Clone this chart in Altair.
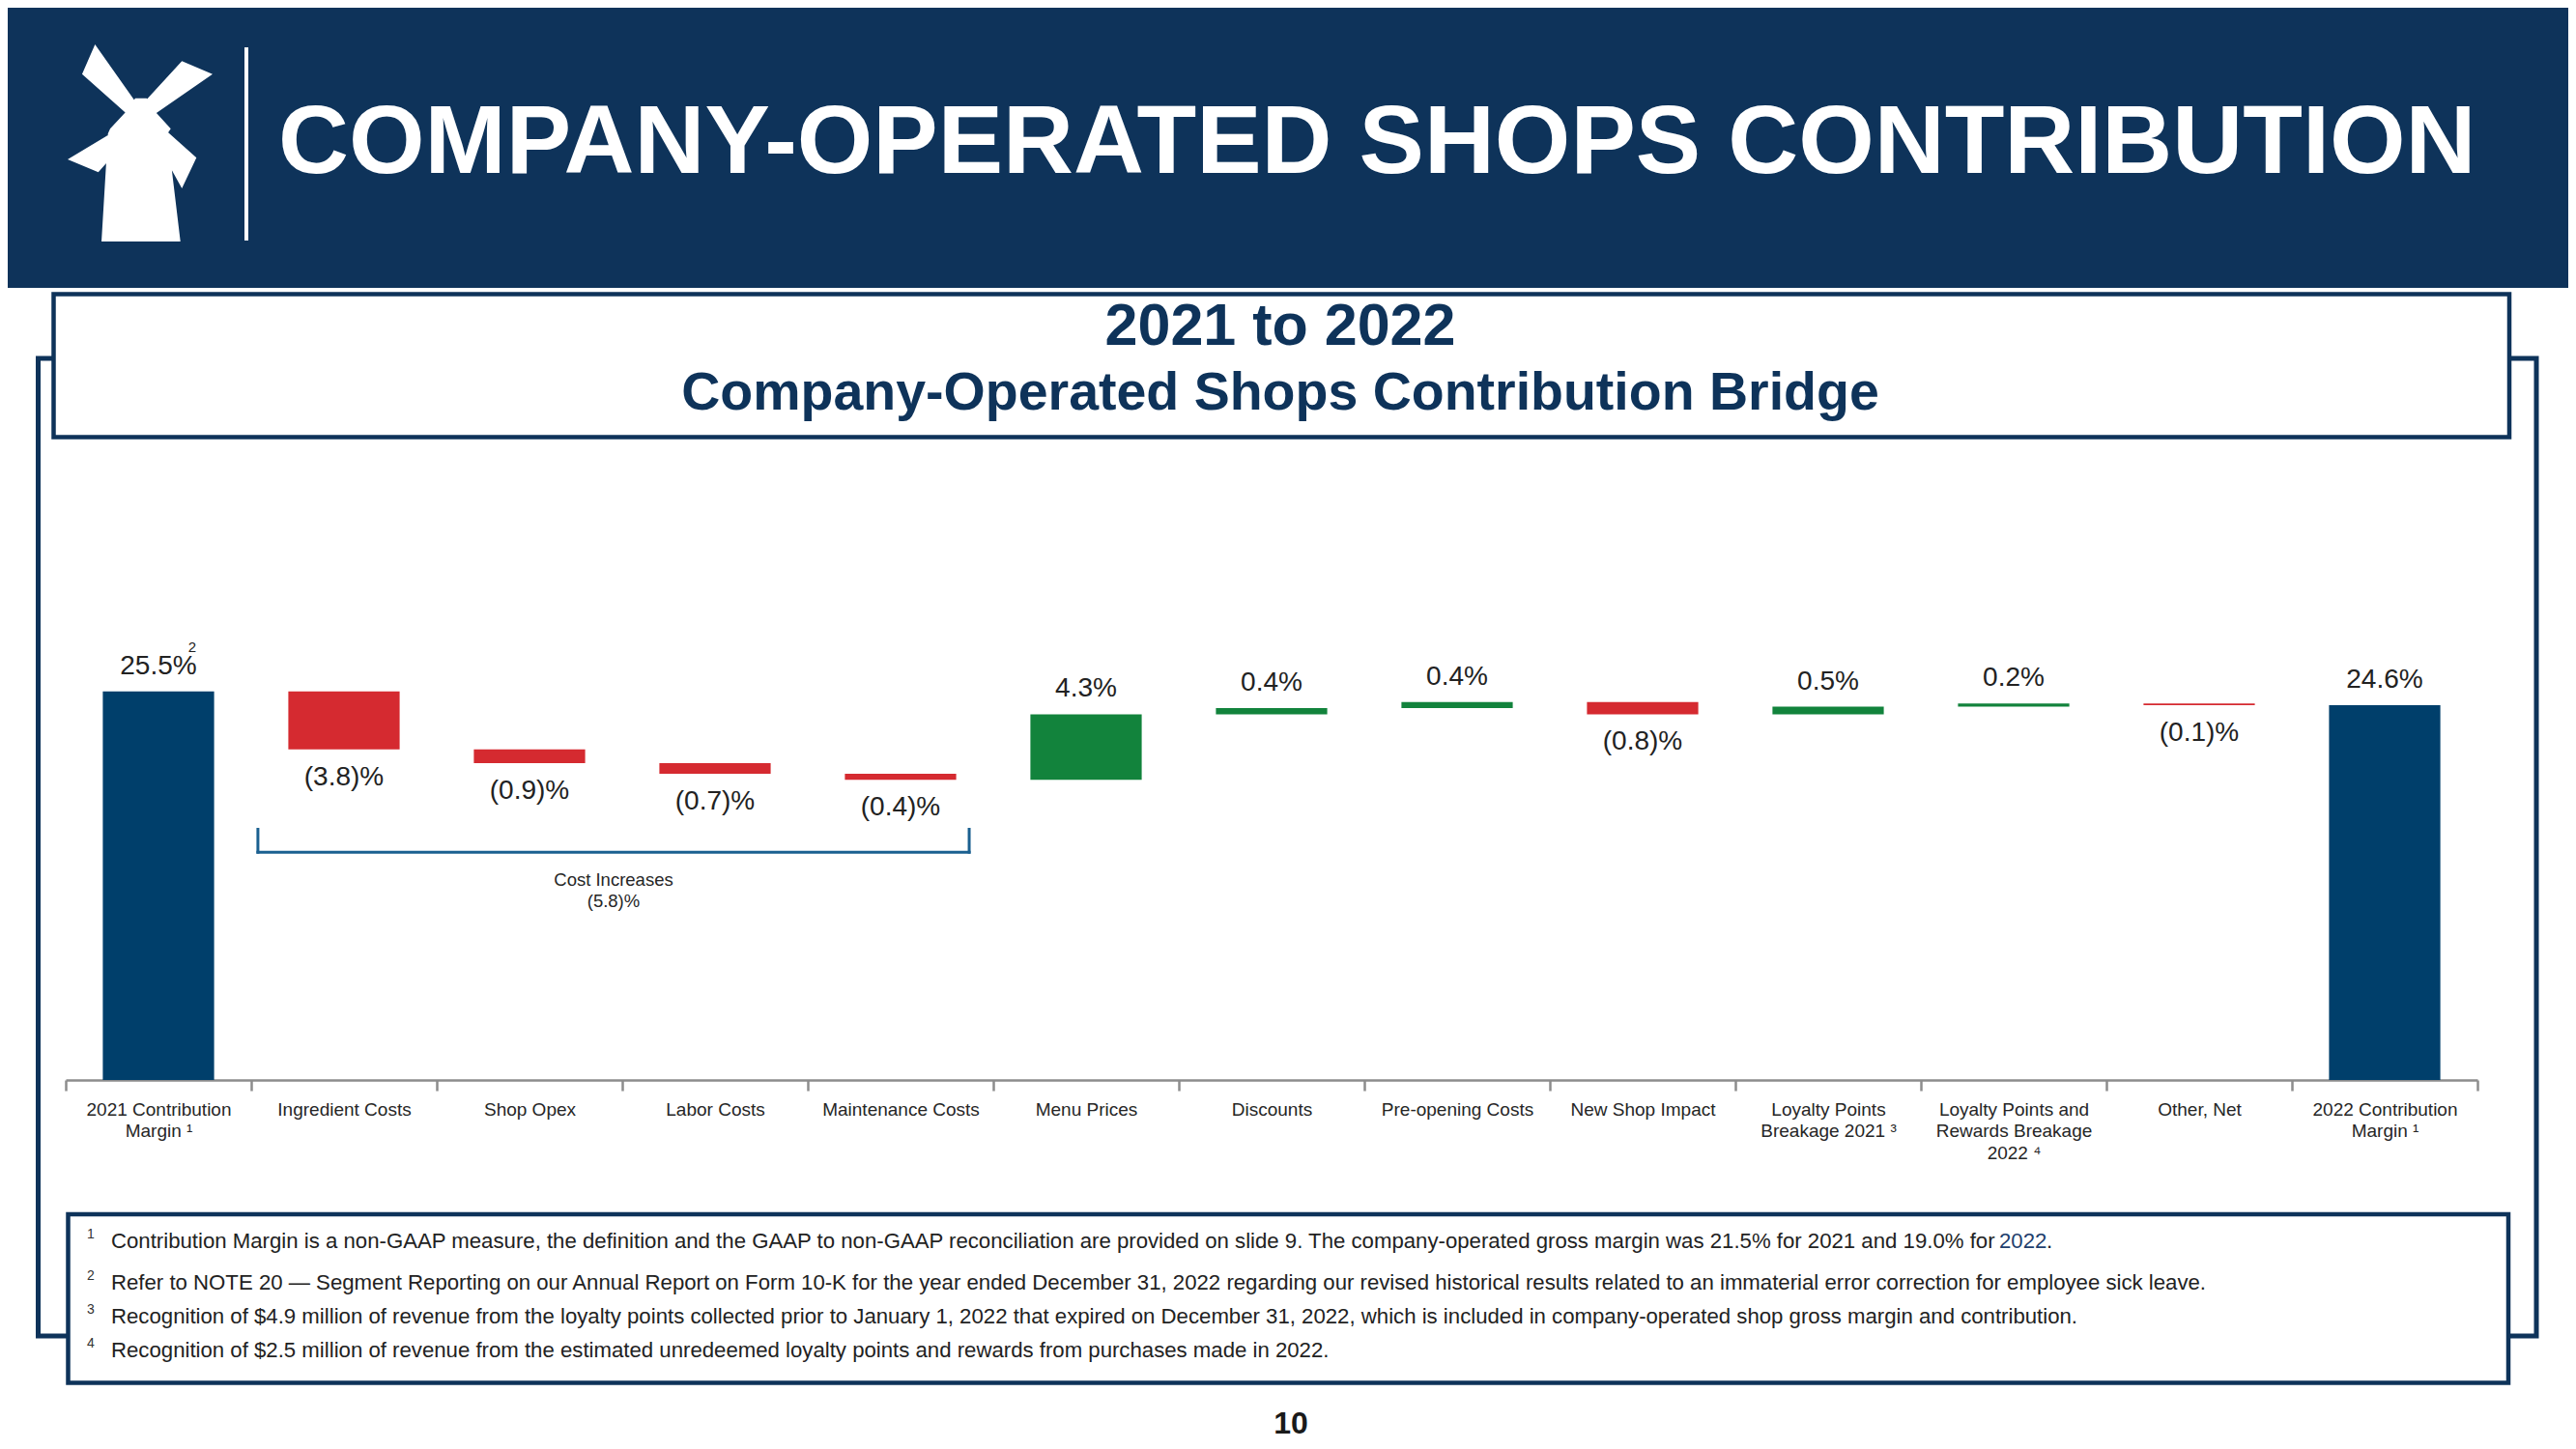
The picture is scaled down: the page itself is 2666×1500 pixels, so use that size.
import altair as alt
import pandas as pd

FONT = "Liberation Sans"
HEADER_NAVY = "#0E335A"
BAR_NAVY = "#003F6B"
RED = "#D52A30"
GREEN = "#12833C"
TEXT = "#222222"

# ---------------- data ----------------
categories = [
    "2021 Contribution|Margin ¹", "Ingredient Costs", "Shop Opex", "Labor Costs",
    "Maintenance Costs", "Menu Prices", "Discounts", "Pre-opening Costs",
    "New Shop Impact", "Loyalty Points|Breakage 2021 ³",
    "Loyalty Points and|Rewards Breakage|2022 ⁴", "Other, Net",
    "2022 Contribution|Margin ¹",
]
values = [25.5, -3.8, -0.9, -0.7, -0.4, 4.3, 0.4, 0.4, -0.8, 0.5, 0.2, -0.1, 24.6]
kinds = ["total", "neg", "neg", "neg", "neg", "pos", "pos", "pos", "neg", "pos", "pos", "neg", "total"]
value_labels = ["25.5%", "(3.8)%", "(0.9)%", "(0.7)%", "(0.4)%", "4.3%", "0.4%", "0.4%",
                "(0.8)%", "0.5%", "0.2%", "(0.1)%", "24.6%"]
label_notes = ["2", "", "", "", "", "", "", "", "", "", "", "", ""]

bracket_label = "Cost Increases|(5.8)%"
# bracket span in category units (0 = left edge of first category) and in value units
bracket_x = [1.036, 4.87]
bracket_y = [16.45, 14.95]

footnote_numbers = ["1", "2", "3", "4"]
footnote_texts = [
    "Contribution Margin is a non-GAAP measure, the definition and the GAAP to non-GAAP reconciliation are provided on slide 9. The company-operated gross margin was 21.5% for 2021 and 19.0% for ",
    "Refer to NOTE 20 \u2014 Segment Reporting on our Annual Report on Form 10-K for the year ended December 31, 2022 regarding our revised historical results related to an immaterial error correction for employee sick leave.",
    "Recognition of $4.9 million of revenue from the loyalty points collected prior to January 1, 2022 that expired on December 31, 2022, which is included in company-operated shop gross margin and contribution.",
    "Recognition of $2.5 million of revenue from the estimated unredeemed loyalty points and rewards from purchases made in 2022.",
]
footnote_link = "2022"

title_text = "COMPANY-OPERATED SHOPS CONTRIBUTION"
subtitle_1 = "2021 to 2022"
subtitle_2 = "Company-Operated Shops Contribution Bridge"
page_number = "10"

# ---------------- waterfall table ----------------
rows = []
running = 0.0
for c, v, k, lab, note in zip(categories, values, kinds, value_labels, label_notes):
    if k == "total":
        start, end = 0.0, v
    else:
        start, end = running, running + v
    running = end
    rows.append(dict(cat=c, lo=min(start, end), hi=max(start, end), kind=k, label=lab, note=note))
df = pd.DataFrame(rows)

# ---------------- layout (plot area = bar region) ----------------
W, H = 2496, 631
OX, OY = 68, 487  # reference position of plot origin


def px(x):
    return x - OX


def py(y):
    return y - OY


one = pd.DataFrame({"d": [0]})


def rect(x0, x1, y0, y1, **kw):
    return alt.Chart(one).mark_rect(**kw).encode(
        x=alt.value(px(x0)), x2=alt.value(px(x1)), y=alt.value(py(y0)), y2=alt.value(py(y1)))


def text(x, y, s, **kw):
    return alt.Chart(one).mark_text(font=FONT, **kw).encode(
        x=alt.value(px(x)), y=alt.value(py(y)), text=alt.value(s))


# windmill logo polygons (reference pixel coords)
logo_polys = [
    [(140, 101.7), (151.7, 101.7), (161.7, 116.7), (176.7, 133.3), (173.3, 138.3), (186.7, 250),
     (105, 250), (111.7, 138.3), (114, 133.3), (129.3, 116.7)],
    [(98.3, 46), (140, 105), (130, 116.7), (85, 76.7)],
    [(188.3, 63.3), (220, 76.7), (160, 118.3), (148.3, 106.7)],
    [(120, 135), (128.3, 148.3), (101.7, 178.3), (70, 165)],
    [(171.7, 135), (203.3, 163.3), (188.3, 195), (163.3, 150)],
]
LC, LS = (145, 149), 103
parts = []
for poly in logo_polys:
    pts = [((x - LC[0]) / LS, (y - LC[1]) / LS) for x, y in poly]
    parts.append("M" + " L".join(f"{u:.3f},{v:.3f}" for u, v in pts) + " Z")
logo_path = " ".join(parts)

FN_SIZE = 22.2

decor = [
    rect(8, 2666, 8, 298, color=HEADER_NAVY),
    alt.Chart(one).mark_point(shape=logo_path, filled=True, color="white", opacity=1, strokeWidth=0).encode(
        x=alt.value(px(145)), y=alt.value(py(149)), size=alt.value(LS * LS * 4)),
    alt.Chart(one).mark_rule(color="white", strokeWidth=4).encode(
        x=alt.value(px(255)), y=alt.value(py(49)), y2=alt.value(py(249))),
    text(288, 179, title_text, fontSize=101, fontWeight="bold", color="white", align="left", baseline="alphabetic"),
    rect(39.5, 2625, 371, 1383, fill="white", fillOpacity=0, stroke=HEADER_NAVY, strokeWidth=5),
    rect(55.5, 2597, 304.5, 452.5, fill="white", stroke=HEADER_NAVY, strokeWidth=4.5),
    text(1325, 357, subtitle_1, fontSize=61, fontWeight="bold", color=HEADER_NAVY, align="center", baseline="alphabetic"),
    text(1325, 424, subtitle_2, fontSize=55.5, fontWeight="bold", color=HEADER_NAVY, align="center", baseline="alphabetic"),
    rect(70.5, 2596, 1257, 1431.5, fill="white", stroke=HEADER_NAVY, strokeWidth=4.5),
    text(1336, 1484, page_number, fontSize=32, fontWeight="bold", color="#1A1A1A", align="center", baseline="alphabetic"),
]

fn_baselines = [1292, 1335, 1370, 1405]
for num, t, b in zip(footnote_numbers, footnote_texts, fn_baselines):
    decor.append(text(90, b - 10, num, fontSize=14, color="#333333", align="left", baseline="alphabetic"))
    decor.append(text(115, b, t, fontSize=FN_SIZE, color=TEXT, align="left", baseline="alphabetic"))
decor.append(text(2069, fn_baselines[0], footnote_link, fontSize=FN_SIZE, color="#1F3F6E", align="left", baseline="alphabetic"))
decor.append(text(2118, fn_baselines[0], ".", fontSize=FN_SIZE, color=TEXT, align="left", baseline="alphabetic"))

# ---------------- waterfall ----------------
xs = alt.Scale(domain=categories, paddingInner=0, paddingOuter=0)
ys = alt.Scale(domain=[0, 40], nice=False, zero=True)
x_axis = alt.Axis(
    title=None, labelExpr="split(datum.label, '|')", labelAngle=0, labelFont=FONT,
    labelFontSize=19, labelColor="#262626", labelLineHeight=22.5, labelPadding=10,
    labelLimit=400, labelOverlap=False, tickBand="extent", tickSize=11, tickWidth=2.5,
    tickColor="#8C8C8C", domainColor="#8C8C8C", domainWidth=2.5, grid=False,
)
X = alt.X("cat:N", scale=xs, sort=categories, axis=x_axis)

base = alt.Chart(df)
bars = base.mark_bar(width=alt.RelativeBandSize(0.6)).encode(
    x=X,
    y=alt.Y("lo:Q", scale=ys, axis=None),
    y2="hi:Q",
    color=alt.Color("kind:N", scale=alt.Scale(domain=["total", "neg", "pos"], range=[BAR_NAVY, RED, GREEN]), legend=None),
)
above = base.transform_filter("datum.kind != 'neg'").mark_text(
    font=FONT, fontSize=28, color=TEXT, baseline="alphabetic", dy=-18).encode(
    x=X, y=alt.Y("hi:Q", scale=ys, axis=None), text="label:N")
below = base.transform_filter("datum.kind == 'neg'").mark_text(
    font=FONT, fontSize=28, color=TEXT, baseline="alphabetic", dy=37).encode(
    x=X, y=alt.Y("lo:Q", scale=ys, axis=None), text="label:N")
notes = base.transform_filter("datum.note != ''").mark_text(
    font=FONT, fontSize=15, color=TEXT, baseline="alphabetic", dx=35, dy=-41).encode(
    x=X, y=alt.Y("hi:Q", scale=ys, axis=None), text="note:N")
waterfall = alt.layer(bars, above, below, notes)

# ---------------- cost increases bracket ----------------
bdf = pd.DataFrame([
    {"x": bracket_x[0], "x2": bracket_x[0], "y": bracket_y[0], "y2": bracket_y[1]},
    {"x": bracket_x[1], "x2": bracket_x[1], "y": bracket_y[0], "y2": bracket_y[1]},
    {"x": bracket_x[0], "x2": bracket_x[1], "y": bracket_y[1], "y2": bracket_y[1]},
])
bxs = alt.Scale(domain=[0, len(categories)], nice=False, zero=False)
b_rules = alt.Chart(bdf).mark_rule(color="#1B6090", strokeWidth=3, strokeCap="square").encode(
    x=alt.X("x:Q", scale=bxs, axis=None), x2="x2:Q",
    y=alt.Y("y:Q", scale=ys, axis=None), y2="y2:Q")
b_text = alt.Chart(pd.DataFrame({"x": [sum(bracket_x) / 2], "y": [bracket_y[1]], "t": [bracket_label]})).mark_text(
    font=FONT, fontSize=18.5, color="#262626", lineBreak="|", lineHeight=22, baseline="alphabetic", dy=35).encode(
    x=alt.X("x:Q", scale=bxs, axis=None), y=alt.Y("y:Q", scale=ys, axis=None), text="t:N")
bracket = alt.layer(b_rules, b_text)

chart = alt.layer(*decor, waterfall, bracket).resolve_scale(x="independent").properties(
    width=W, height=H,
    autosize=alt.AutoSizeParams(type="none"),
    padding={"left": OX - 8, "top": OY - 8, "right": 2650 - (OX - 8) - W, "bottom": 1484 - (OY - 8) - H},
    background="white",
).configure_view(stroke=None)

chart.save("out.html", embed_options={"renderer": "svg", "actions": False})
